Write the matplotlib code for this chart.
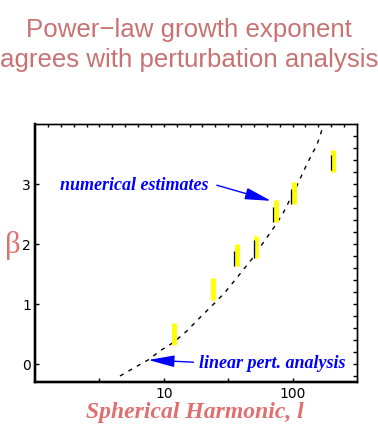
import numpy as np
import matplotlib
matplotlib.use('Agg')
import matplotlib.pyplot as plt
import matplotlib.transforms as mtransforms

# numerical estimates of beta vs spherical harmonic l (yellow bars)
l_est = [12, 24, 37, 52, 74, 102, 206]
beta_lo = [0.32, 1.07, 1.64, 1.77, 2.37, 2.67, 3.20]
beta_hi = [0.68, 1.43, 2.00, 2.13, 2.73, 3.04, 3.57]
# thin black line drawn next to each bar (none on the first two)
black_lo = [np.nan, np.nan, 1.64, 1.77, 2.37, 2.67, 3.24]
black_hi = [np.nan, np.nan, 1.89, 2.06, 2.62, 2.92, 3.49]

# linear perturbation analysis (dashed curve)
l_lin = [4.57, 5.81, 7.73, 9.35, 11.9, 15.1, 19.2, 25.8, 30.0, 38.0, 48.3,
         59.5, 74.6, 85.1, 108, 129, 155, 175]
beta_lin = [-0.20, -0.07, 0.08, 0.22, 0.36, 0.55, 0.78, 1.05, 1.20, 1.47, 1.75,
            2.03, 2.33, 2.53, 2.97, 3.33, 3.66, 4.00]

title_lines = ['Power\u2212law growth exponent', 'agrees with perturbation analysis']
xtick_vals = [10, 100]
ytick_vals = [0, 1, 2, 3]

title_col = '#c87272'
label_col = '#e07070'

fig = plt.figure(figsize=(3.78, 4.31), dpi=100)
ax = fig.add_axes([35/378, 48/431, 322/378, 258/431])

# dashed theory line
ax.plot(l_lin, beta_lin, color='black', lw=1, linestyle=(0, (3, 4)))

# yellow bars + black side lines
ax.vlines(l_est, beta_lo, beta_hi, color='yellow', lw=3.5, zorder=3)
shift = mtransforms.offset_copy(ax.transData, fig=fig, x=-2.5, y=0, units='dots')
ax.vlines(l_est, black_lo, black_hi, color='black', lw=0.9, zorder=4, transform=shift)

ax.set_xscale('log')
ax.set_xlim(1, 10**2.5)
ax.set_ylim(-0.3, 4.0)

# bottom ticks every half decade, labels only on 10 and 100
ax.xaxis.set_major_locator(matplotlib.ticker.FixedLocator(xtick_vals))
ax.xaxis.set_minor_locator(matplotlib.ticker.FixedLocator([10**0.5, 10**1.5]))
ax.set_xticklabels([str(v) for v in xtick_vals])
ax.xaxis.set_minor_formatter(matplotlib.ticker.NullFormatter())
ax.set_yticks(ytick_vals)
ax.set_yticklabels([str(v) for v in ytick_vals])
ax.tick_params(axis='both', which='both', direction='in', length=3, width=1,
               labelsize=10, pad=3, top=False, right=False)

# top: small ticks every 0.1 decade
axt = ax.twiny()
axt.set_xscale('log')
axt.set_xlim(ax.get_xlim())
axt.xaxis.set_major_locator(matplotlib.ticker.FixedLocator(10**np.arange(0.1, 2.5, 0.1)))
axt.xaxis.set_minor_locator(matplotlib.ticker.NullLocator())
axt.tick_params(axis='x', direction='in', length=2.5, width=1, labeltop=False)

# right: small ticks every 0.2
axr = ax.twinx()
axr.set_ylim(ax.get_ylim())
axr.set_yticks(np.arange(-0.2, 3.9, 0.2))
axr.tick_params(axis='y', direction='in', length=3, width=1, labelright=False)

for a in (ax, axt, axr):
    a.spines['left'].set_linewidth(1.6)
    a.spines['bottom'].set_linewidth(1.6)
    a.spines['top'].set_linewidth(0.9)
    a.spines['right'].set_linewidth(0.9)

# annotations
ann_font = dict(family='Liberation Serif', weight='bold', style='italic', size=13, color='blue')
ax.annotate('', xy=(67.9, 2.72), xytext=(25.8, 2.98),
            arrowprops=dict(arrowstyle='-|>,head_length=1.6,head_width=0.36',
                            mutation_scale=10, color='blue', lw=1,
                            shrinkA=0, shrinkB=0), zorder=5)
ax.text(1.56, 2.99, 'numerical estimates', ha='left', va='center', **ann_font)

ax.annotate('', xy=(7.59, 0.067), xytext=(17.0, 0.03),
            arrowprops=dict(arrowstyle='-|>,head_length=1.6,head_width=0.36',
                            mutation_scale=10, color='blue', lw=1,
                            shrinkA=0, shrinkB=0), zorder=5)
ax.text(18.6, 0.03, 'linear pert. analysis', ha='left', va='center', **ann_font)

# axis labels
fig.text(195/378, 1 - 413/431, 'Spherical Harmonic, l', ha='center', va='center',
         family='Liberation Serif', weight='bold', style='italic', size=17, color=label_col)
fig.text(13/378, 1 - 246/431, '\u03b2', ha='center', va='center',
         family='Liberation Serif', size=22, color=label_col)

# title
fig.text(0.5, 1 - 30/431, title_lines[0], ha='center', va='center',
         family='Liberation Sans', size=18.6, color=title_col)
fig.text(0.5, 1 - 60/431, title_lines[1], ha='center', va='center',
         family='Liberation Sans', size=18.6, color=title_col)

fig.savefig('out.png', dpi=100)
